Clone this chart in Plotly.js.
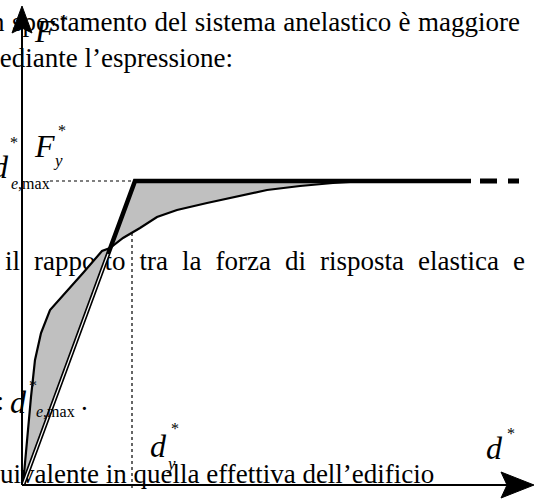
<!DOCTYPE html>
<html>
<head>
<meta charset="utf-8">
<script src="https://cdn.plot.ly/plotly-3.0.1.min.js"></script>
<style>
  html, body { margin: 0; padding: 0; background: #fff; }
  #myChart { width: 534px; height: 501px; }
</style>
</head>
<body>
<div id="myChart"></div>
<script>
// capacity curve of the equivalent system (d*, F*)
var curveD = [0, 2, 5, 8, 12, 18, 27, 45, 60, 79, 87, 100, 117, 134, 154, 184, 207, 227, 244, 277, 310, 344];
var curveF = [0, 22, 60, 88, 125, 152, 175, 195, 212, 234, 237, 247, 257, 268, 275, 282, 287, 292, 295, 299, 302, 304];
// bilinear equivalent
var bilD = [0, 112, 448];
var bilF = [0, 304, 304];
// dashed continuation of the plateau
var tailD = [457, 496];
var tailF = [304, 304];
// d*y and where the dotted guides start/stop
var dY = 109;
var dYcurveF = 252;
var dEmaxStart = 27;

// text of the page underneath the figure
var line1 = "in spostamento del sistema anelastico è maggiore";
var line2 = "mediante l’espressione:";
var line3 = "il rapporto tra la forza di risposta elastica e";
var line5 = "equivalente in quella effettiva dell’edificio";

document.addEventListener("DOMContentLoaded", () => {
  var bodyFont = "Liberation Serif";
  var bodySize = 27;

  // pixel helpers: the axes are set up so that 1 unit = 1 px
  var X0 = 23, Y0 = 485;
  function dx(px) { return px - X0; }
  function fy(py) { return Y0 - py; }

  var ctx = document.createElement("canvas").getContext("2d");
  ctx.font = bodySize + "px '" + bodyFont + "'";

  // spread words of a justified line between two pixel edges
  function justify(words, left, right) {
    var widths = words.map((w) => ctx.measureText(w).width);
    var total = widths.reduce((a, b) => a + b, 0);
    var gap = (right - left - total) / (words.length - 1);
    var xs = [];
    var x = left;
    for (var i = 0; i < words.length; i++) {
      xs.push(x);
      x += widths[i] + gap;
    }
    return { xs: xs, gap: gap };
  }

  var txtX = [], txtY = [], txtS = [], txtP = [];
  // words placed by their left edge
  function put(words, xs, base) {
    for (var i = 0; i < words.length; i++) {
      txtX.push(dx(xs[i]));
      txtY.push(fy(base - 8));
      txtS.push(words[i]);
      txtP.push("middle right");
    }
  }
  // text placed by its right edge (its start runs off the page)
  function putRight(str, right, base) {
    txtX.push(dx(right));
    txtY.push(fy(base - 8));
    txtS.push(str);
    txtP.push("middle left");
  }

  // line 1 (justified, first word cut by the page edge)
  var w1 = line1.split(" ");
  var j1 = justify(w1.slice(1), 12, 520);
  putRight(w1[0], 12 - j1.gap, 32);
  put(w1.slice(1), j1.xs, 32);
  // line 2 ends at 233 px
  putRight(line2, 233, 68);
  // line 3 justified
  var w3 = line3.split(" ");
  put(w3, justify(w3, 5, 525).xs, 271);
  // line 5: "eq" runs off the left edge
  putRight(line5.slice(0, 2), 0, 484);
  put([line5.slice(2)], [0], 484);
  // line 4 pieces
  putRight(":", 4, 411);
  put(["."], [81], 411);

  var textTrace = {
    type: "scatter",
    mode: "text",
    x: txtX,
    y: txtY,
    text: txtS,
    textposition: txtP,
    textfont: { family: bodyFont, size: bodySize, color: "#000" },
    hoverinfo: "skip",
  };

  var fillTrace = {
    type: "scatter",
    mode: "lines",
    x: curveD.concat([bilD[1], bilD[0]]),
    y: curveF.concat([bilF[1], bilF[0]]),
    fill: "toself",
    fillcolor: "#c0c0c0",
    line: { width: 0 },
    hoverinfo: "skip",
  };

  var curveTrace = {
    type: "scatter",
    mode: "lines",
    x: curveD,
    y: curveF,
    line: { color: "#000", width: 2.2 },
    hoverinfo: "skip",
  };

  var bilTrace = {
    type: "scatter",
    mode: "lines",
    x: bilD,
    y: bilF,
    line: { color: "#000", width: 4.5 },
    hoverinfo: "skip",
  };

  // the lower part of the slope is a double line
  var gapTrace = {
    type: "scatter",
    mode: "lines",
    x: [bilD[0], bilD[1] * 0.76],
    y: [bilF[0], bilF[1] * 0.76],
    line: { color: "#fff", width: 1.2 },
    hoverinfo: "skip",
  };

  var tailTrace = {
    type: "scatter",
    mode: "lines",
    x: tailD,
    y: tailF,
    line: { color: "#000", width: 5, dash: "17px,11px" },
    hoverinfo: "skip",
  };

  var guideH = {
    type: "scatter",
    mode: "lines",
    x: [dEmaxStart, bilD[1]],
    y: [bilF[1], bilF[1]],
    line: { color: "#000", width: 1.2, dash: "dot" },
    hoverinfo: "skip",
  };

  var guideV = {
    type: "scatter",
    mode: "lines",
    x: [dY, dY],
    y: [dYcurveF, -5],
    line: { color: "#000", width: 1.2, dash: "dot" },
    hoverinfo: "skip",
  };

  // axes with arrow heads
  var yTip = fy(6), xTip = dx(534);
  var axX = dx(22);
  var shapes = [
    { type: "line", x0: axX, y0: 0, x1: axX, y1: yTip - 20, line: { color: "#000", width: 2 }, layer: "above" },
    { type: "line", x0: axX, y0: 0, x1: xTip - 25, y1: 0, line: { color: "#000", width: 2 }, layer: "above" },
    {
      type: "path", layer: "above", fillcolor: "#000", line: { color: "#000", width: 1 },
      path: "M" + axX + "," + yTip + " L" + (axX - 10) + "," + (yTip - 27) + " L" + axX + "," + (yTip - 22) +
        " L" + (axX + 10) + "," + (yTip - 27) + " Z",
    },
    {
      type: "path", layer: "above", fillcolor: "#000", line: { color: "#000", width: 1 },
      path: "M" + xTip + ",0 L" + (xTip - 33) + ",13 L" + (xTip - 27) + ",0 L" + (xTip - 33) + ",-13 Z",
    },
  ];

  function lab(text, px, py, size, anchor) {
    return {
      x: dx(px), y: fy(py), xref: "x", yref: "y",
      text: text, showarrow: false,
      xanchor: anchor || "center", yanchor: "middle",
      font: { family: bodyFont, size: size, color: "#000" },
    };
  }
  var labelSize = 32;
  var annotations = [
    lab("<i>F</i>", 44, 31, labelSize),
    lab("*", 64, 20, 16),
    lab("<i>F</i>", 44, 146, labelSize),
    lab("*", 62, 130, 16),
    lab("<i>y</i>", 58, 160, 17),
    lab("<i>d</i>", 0, 167, labelSize),
    lab("*", 14, 142, 16),
    lab("<i>e</i>,max", 9, 183, 16, "left"),
    lab("<i>d</i>", 18, 402, labelSize),
    lab("*", 33, 385, 16),
    lab("<i>e</i>,max", 34, 411, 16, "left"),
    lab("<i>d</i>", 158, 446, labelSize),
    lab("*", 175, 428, 16),
    lab("<i>y</i>", 171, 463, 17),
    lab("<i>d</i>", 494, 448, labelSize),
    lab("*", 511, 433, 16),
  ];

  var layout = {
    width: 534,
    height: 501,
    margin: { l: 0, r: 0, t: 0, b: 0, pad: 0 },
    paper_bgcolor: "#fff",
    plot_bgcolor: "#fff",
    showlegend: false,
    xaxis: { range: [dx(0), dx(534)], visible: false, fixedrange: true },
    yaxis: { range: [fy(501), fy(0)], visible: false, fixedrange: true },
    shapes: shapes,
    annotations: annotations,
  };

  var config = { displayModeBar: false, staticPlot: true };

  Plotly.newPlot("myChart",
    [textTrace, fillTrace, curveTrace, bilTrace, gapTrace, tailTrace, guideH, guideV],
    layout, config);
});
</script>
</body>
</html>
